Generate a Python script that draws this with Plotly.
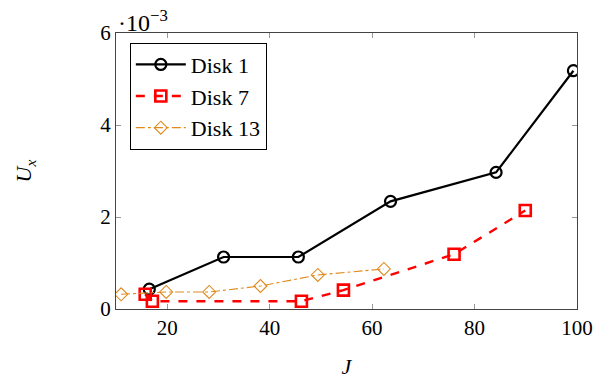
import plotly.graph_objects as go

# Displacement U_x (x 1e-3) versus J for three disks
j_disk1 = [16.5, 31.0, 45.6, 63.6, 84.2, 99.3]
u_disk1 = [0.43, 1.13, 1.13, 2.34, 2.97, 5.18]

j_disk7 = [15.7, 17.1, 46.2, 54.4, 76.0, 89.9]
u_disk7 = [0.32, 0.17, 0.17, 0.41, 1.19, 2.14]

j_disk13 = [11.0, 19.8, 28.2, 38.2, 49.4, 62.3]
u_disk13 = [0.32, 0.37, 0.37, 0.50, 0.74, 0.87]

x_ticks = [20, 40, 60, 80, 100]
y_ticks = [0, 2, 4, 6]

FONT = "Liberation Serif"
ORANGE = "#e08a1e"

fig = go.Figure()
fig.add_trace(go.Scatter(
    x=j_disk1, y=u_disk1, name="Disk 1", mode="lines+markers",
    line=dict(color="black", width=2.2),
    marker=dict(symbol="circle-open", size=11, color="black", line=dict(width=2.2)),
))
fig.add_trace(go.Scatter(
    x=j_disk7, y=u_disk7, name="Disk 7", mode="lines+markers",
    line=dict(color="red", width=2.4, dash="dash"),
    marker=dict(symbol="square-open", size=11, color="red", line=dict(width=2.6)),
))
fig.add_trace(go.Scatter(
    x=j_disk13, y=u_disk13, name="Disk 13", mode="lines+markers",
    line=dict(color=ORANGE, width=1.1, dash="dashdot"),
    marker=dict(symbol="diamond-open", size=10, color=ORANGE, line=dict(width=1.1)),
))

axis_common = dict(
    showgrid=False, zeroline=False, mirror="allticks", ticks="inside",
    ticklen=5, tickcolor="#999999", showline=True, linecolor="#444444",
    linewidth=1, automargin=False,
    tickfont=dict(family=FONT, size=21, color="black"),
)

fig.update_layout(
    width=595, height=379,
    margin=dict(l=116, r=18, t=33, b=70),
    plot_bgcolor="white", paper_bgcolor="white",
    font=dict(family=FONT, size=21, color="black"),
    xaxis=dict(range=[10, 100], tickvals=x_ticks, **axis_common,
               title=dict(text="<i>J</i>", standoff=24, font=dict(size=22))),
    yaxis=dict(range=[0, 6], tickvals=y_ticks, **axis_common,
               title=dict(text="<i>U</i><sub><i>x</i></sub>", standoff=62, font=dict(size=22))),
    legend=dict(
        x=0.03, y=0.965, xanchor="left", yanchor="top",
        bgcolor="white", bordercolor="black", borderwidth=1,
        font=dict(family=FONT, size=22), itemwidth=50, tracegroupgap=0,
    ),
    showlegend=True,
)

fig.add_annotation(
    xref="paper", yref="paper", x=0, y=1, xanchor="left", yanchor="bottom",
    text="·10<sup>−3</sup>", showarrow=False, font=dict(family=FONT, size=24),
    yshift=-5,
)

fig.write_html("out.html")
